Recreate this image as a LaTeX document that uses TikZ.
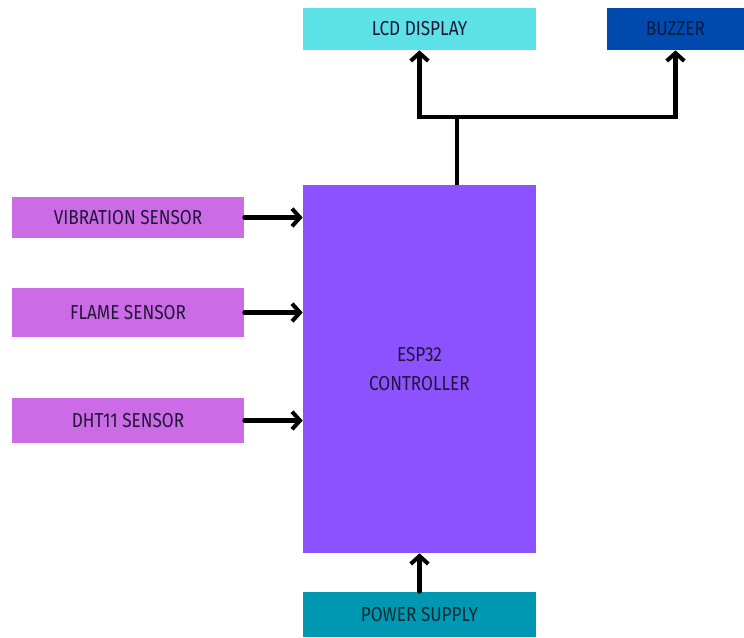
\documentclass[tikz,border=0pt]{standalone}
\usepackage{fontspec}
\setmainfont{Fira Sans}[FakeStretch=0.85]
\usepackage{tikz}
\usetikzlibrary{arrows.meta,positioning,calc}
\definecolor{sensorcol}{HTML}{CB6CE6}
\definecolor{espcol}{HTML}{8C52FF}
\definecolor{lcdcol}{HTML}{5CE1E6}
\definecolor{buzzcol}{HTML}{004AAD}
\definecolor{powercol}{HTML}{0097B2}
\definecolor{inkcol}{HTML}{221638}

\begin{document}
\begin{tikzpicture}[x=0.02cm,y=-0.02cm,
    block/.style={inner sep=0pt,align=center,text=inkcol,font=\fontsize{11.5}{17}\selectfont},
    conn/.style={line width=2.3pt,line cap=round,-{Straight Barb[length=4.5pt,width=10pt]}},
    wire/.style={line width=2.3pt}]
        \useasboundingbox (0,0) rectangle (744,637);
        % controller
        \node[block,fill=espcol,minimum width=4.66cm,minimum height=7.36cm] (esp) at (419.5,369) {ESP32\\CONTROLLER};
        % outputs
        \node[block,fill=lcdcol,minimum width=4.66cm,minimum height=0.84cm] (lcd) at (419.5,29) {LCD DISPLAY};
        \node[block,fill=buzzcol,text=buzzcol!40!black,minimum width=2.74cm,minimum height=0.84cm] (buzzer) at (675.5,29) {BUZZER};
        % sensors
        \node[block,fill=sensorcol,minimum width=4.64cm,minimum height=0.82cm] (vib) at (128,217.5) {VIBRATION SENSOR};
        \node[block,fill=sensorcol,minimum width=4.64cm,minimum height=0.98cm] (flame) at (128,312.5) {FLAME SENSOR};
        \node[block,fill=sensorcol,minimum width=4.64cm,minimum height=0.90cm] (dht) at (128,420.5) {DHT11 SENSOR};
        % supply
        \node[block,fill=powercol,text=powercol!30!black,minimum width=4.66cm,minimum height=0.90cm] (power) at (419.5,614.5) {POWER SUPPLY};
        % inputs
        \draw[conn] (vib.east) -- (vib.east -| esp.west);
        \draw[conn] (flame.east) -- (flame.east -| esp.west);
        \draw[conn] (dht.east) -- (dht.east -| esp.west);
        \draw[conn] (power.north) -- (esp.south);
        % output bus
        \coordinate (split) at (457,117);
        \draw[wire] (esp.north -| split) -- (split);
        \draw[conn] (split) -| (lcd.south);
        \draw[conn] (split) -| (buzzer.south);
      \end{tikzpicture}
\end{document}
